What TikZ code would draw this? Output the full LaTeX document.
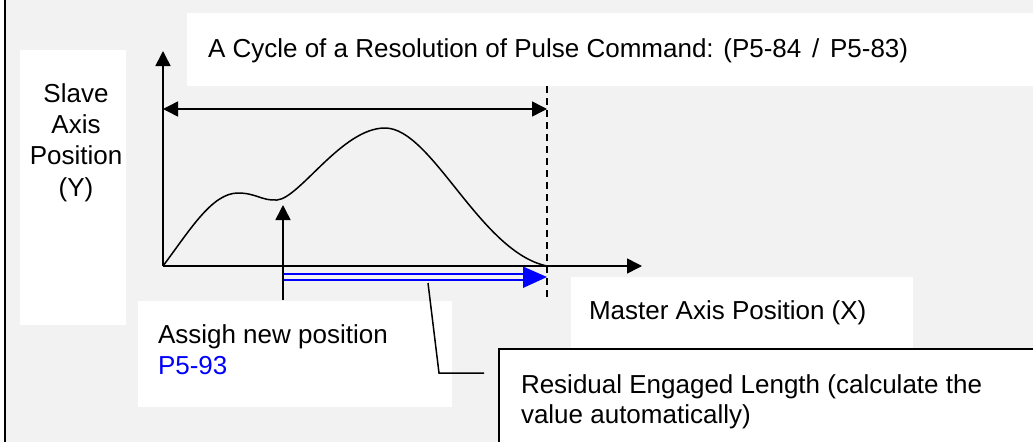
\documentclass[tikz,border=0pt]{standalone}
\usepackage{fontspec}
\setmainfont{Liberation Sans}
\usetikzlibrary{arrows.meta}
\definecolor{bggray}{HTML}{F2F2F2}
\definecolor{pblue}{HTML}{0000FF}
\begin{document}
\begin{tikzpicture}[x=1pt,y=-1pt,
  lbl/.style={inner sep=0pt, outer sep=0pt, font=\fontsize{26}{31}\selectfont, text=black},
  whitebox/.style={fill=white},
  axisline/.style={line width=1.6pt, -{Triangle[length=15pt,width=15pt]}},
  thinline/.style={line width=1.5pt},
  curveline/.style={line width=1.5pt},
  blueline/.style={pblue, line width=1.6pt},
  guide/.style={line width=1.5pt, dash pattern=on 7pt off 5pt}]
\useasboundingbox (0,0) rectangle (1033,442);
\fill[bggray] (6,0) rectangle (1033,442);
\draw[line width=2pt] (5,0) -- (5,442);
% white label backgrounds
\fill[whitebox] (187,13) rectangle (1033,86);
\fill[whitebox] (20,50) rectangle (126,325);
\fill[whitebox] (138,301) rectangle (452,407);
\fill[whitebox] (571,277) rectangle (913,349);
% coordinates
\coordinate (O) at (163,266);
\coordinate (Ytip) at (163,51);
\coordinate (Xtip) at (642,266);
\coordinate (CycL) at (163,109);
\coordinate (CycR) at (547,109);
\coordinate (DashTop) at (547,86);
\coordinate (DashBot) at (547,300);
\coordinate (UpBot) at (283,300);
\coordinate (UpTop) at (283,205);
\coordinate (B1s) at (283,274);
\coordinate (B1e) at (526,274);
\coordinate (B2s) at (283,280);
\coordinate (B2e) at (526,280);
\coordinate (Bt1) at (523,266.5);
\coordinate (Btip) at (547,277);
\coordinate (Bt2) at (523,288);
\coordinate (L1) at (428,283);
\coordinate (L2) at (439,373);
\coordinate (L3) at (484,373);
% axes
\draw[axisline] (O) -- (Ytip);
\draw[axisline] (O) -- (Xtip);
% cycle arrow
\draw[line width=1.5pt, {Triangle[length=15pt,width=15pt]}-{Triangle[length=15pt,width=15pt]}] (CycL) -- (CycR);
% dashed limit
\draw[guide] (DashTop) -- (DashBot);
% curve
\draw[curveline] (O) .. controls (190,230) and (212,193) .. (238,193)
  .. controls (256,193) and (262,201) .. (277,200)
  .. controls (300,198) and (342,128) .. (385,128)
  .. controls (432,128) and (480,252) .. (547,266);
% blue residual arrow
\draw[blueline] (B1s) -- (B1e);
\draw[blueline] (B2s) -- (B2e);
\fill[pblue] (Bt1) -- (Btip) -- (Bt2) -- cycle;
% assign arrow
\draw[axisline] (UpBot) -- (UpTop);
% leader
\draw[thinline] (L1) -- (L2) -- (L3);
% residual box
\fill[whitebox] (499,349) rectangle (1033,442);
\draw[thinline] (499,442) -- (499,349) -- (1033,349);
% texts (base anchor of a multi-line node = baseline of its last line)
\node[lbl, anchor=base west] (title) at (208,57) {A Cycle of a Resolution of Pulse Command: (P5-84\hspace{3.5pt} / \hspace{3.5pt}P5-83)};
\node[lbl, anchor=base, align=center] (slave) at (76,196) {Slave\\Axis\\Position\\[1pt](Y)};
\node[lbl, anchor=base west, align=left] (assign) at (158,374) {Assigh new position\\\textcolor{pblue}{P5-93}};
\node[lbl, anchor=base west] (master) at (589,319) {Master Axis Position (X)};
\node[lbl, anchor=base west, align=left, font=\fontsize{26}{29.5}\selectfont] (resid) at (521,423) {Residual Engaged Length (calculate the\\value automatically)};
\end{tikzpicture}
\end{document}
